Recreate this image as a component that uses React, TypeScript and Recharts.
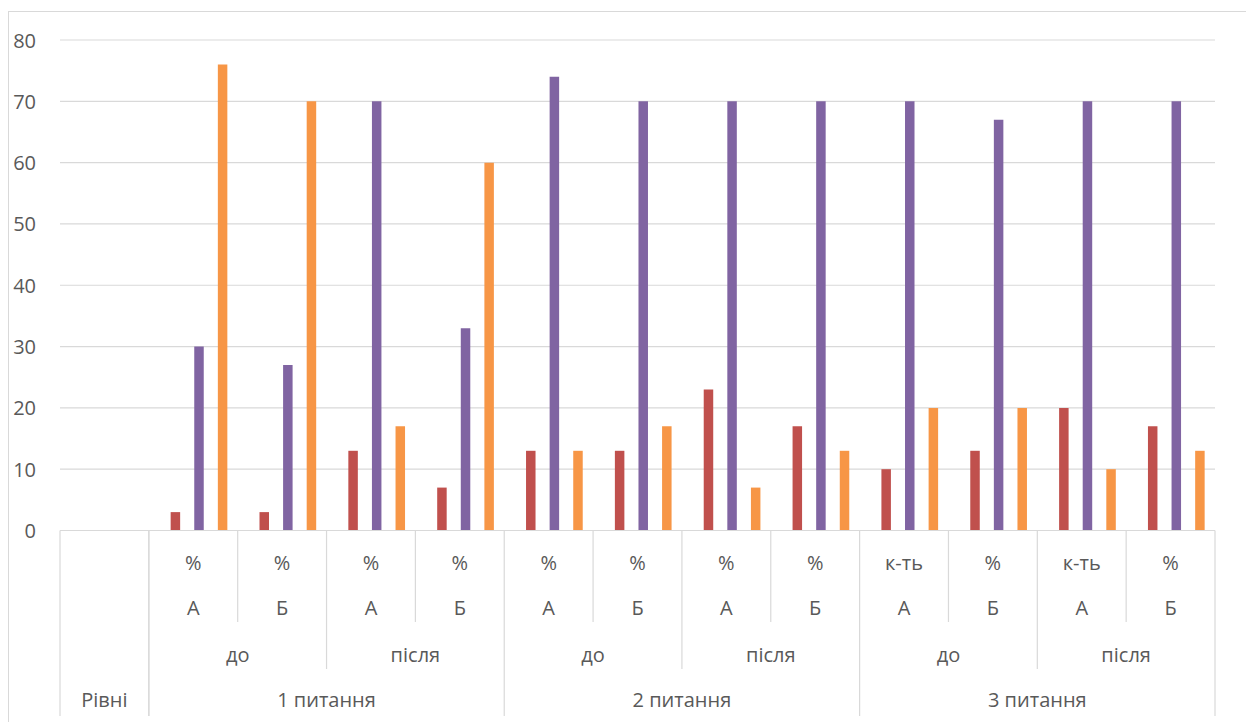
import React from "react";
import { BarChart, Bar, XAxis, YAxis, CartesianGrid } from "recharts";

// categories (left to right), multi-level axis labels
const unitLabels = ["", "%", "%", "%", "%", "%", "%", "%", "%", "к-ть", "%", "к-ть", "%"];
const groupLabels = ["", "А", "Б", "А", "Б", "А", "Б", "А", "Б", "А", "Б", "А", "Б"];
const phaseLabels = ["до", "після", "до", "після", "до", "після"];
const questionLabels = ["Рівні", "1 питання", "2 питання", "3 питання"];

// series values (first category "Рівні" is empty)
const redValues = [null, 3, 3, 13, 7, 13, 13, 23, 17, 10, 13, 20, 17];
const purpleValues = [null, 30, 27, 70, 33, 74, 70, 70, 70, 70, 67, 70, 70];
const orangeValues = [null, 76, 70, 17, 60, 13, 17, 7, 13, 20, 20, 10, 13];

const yTicks = [0, 10, 20, 30, 40, 50, 60, 70, 80];

const data = unitLabels.map((_, i) => ({
  key: String(i),
  red: redValues[i],
  purple: purpleValues[i],
  orange: orangeValues[i],
}));

const W = 1246;
const H = 722;
const PLOT_LEFT = 60;
const PLOT_RIGHT = 1215;
const BAND = (PLOT_RIGHT - PLOT_LEFT) / data.length;
const FONT = "'Open Sans', 'Noto Sans', sans-serif";
const TEXT = "#595959";
const LINE = "#d9d9d9";
const FS = 20;

function YTick(props: any) {
  const { x, y, payload } = props;
  return (
    <text x={x} y={y + 7.5} textAnchor="end" fill={TEXT} fontSize={FS} fontFamily={FONT}>
      {payload.value}
    </text>
  );
}

function XTick(props: any) {
  const { x, y, payload } = props;
  const i = payload.index ?? props.index;
  const left = x - BAND / 2;
  const right = x + BAND / 2;
  const els: React.ReactNode[] = [];
  const txt = (k: string, cx: number, cy: number, s: string) => (
    <text key={k} x={cx} y={cy} textAnchor="middle" fill={TEXT} fontSize={FS} fontFamily={FONT}>
      {s}
    </text>
  );
  const vline = (k: string, lx: number, len: number) => (
    <line key={k} x1={lx} x2={lx} y1={y} y2={y + len} stroke={LINE} strokeWidth={1.2} />
  );

  if (i === 0) {
    els.push(vline("l", left, 185.5));
    els.push(vline("r", right, 185.5));
    els.push(txt("q", x, y + 176.5, questionLabels[0]));
  } else {
    const pos = (i - 1) % 4;
    const leftLen = pos === 0 ? 185.5 : pos === 2 ? 138.5 : 91.5;
    els.push(vline("l", left, leftLen));
    if (i === data.length - 1) els.push(vline("r", right, 185.5));
    els.push(txt("u", x, y + 39.5, unitLabels[i]));
    els.push(txt("g", x, y + 84.5, groupLabels[i]));
    if (pos % 2 === 0) {
      els.push(txt("p", right, y + 131.5, phaseLabels[Math.floor((i - 1) / 2)]));
    }
    if (pos === 0) {
      els.push(txt("q", left + BAND * 2, y + 176.5, questionLabels[Math.floor((i - 1) / 4) + 1]));
    }
  }
  return <g>{els}</g>;
}

export default function App() {
  return (
    <div style={{ position: "absolute", left: 0, top: 0, width: W, height: H, overflow: "hidden", background: "#fff" }}>
      <div
        style={{
          position: "absolute",
          left: 8,
          top: 11,
          width: 1400,
          height: 900,
          border: "1px solid #d9d9d9",
        }}
      />
      <div style={{ position: "absolute", left: 0, top: 0 }}>
        <BarChart
          width={W}
          height={H}
          data={data}
          margin={{ top: 40, right: W - PLOT_RIGHT, left: 0, bottom: 0 }}
          barSize={9.5}
          barGap={2.3}
        >
          <CartesianGrid vertical={false} stroke={LINE} strokeWidth={1.2} />
          <XAxis
            dataKey="key"
            interval={0}
            height={191.5}
            tickSize={0}
            tickMargin={0}
            axisLine={{ stroke: LINE, strokeWidth: 1.2 }}
            tickLine={false}
            tick={<XTick />}
          />
          <YAxis
            width={PLOT_LEFT}
            domain={[0, 80]}
            ticks={yTicks}
            axisLine={false}
            tickLine={false}
            tickSize={0}
            tickMargin={24}
            tick={<YTick />}
          />
          {/* empty series keep their slots, like the hidden columns of the source */}
          <Bar dataKey="empty1" fill="none" isAnimationActive={false} />
          <Bar dataKey="red" fill="#C0504D" isAnimationActive={false} />
          <Bar dataKey="empty2" fill="none" isAnimationActive={false} />
          <Bar dataKey="purple" fill="#8064A2" isAnimationActive={false} />
          <Bar dataKey="empty3" fill="none" isAnimationActive={false} />
          <Bar dataKey="orange" fill="#F79646" isAnimationActive={false} />
        </BarChart>
      </div>
    </div>
  );
}
